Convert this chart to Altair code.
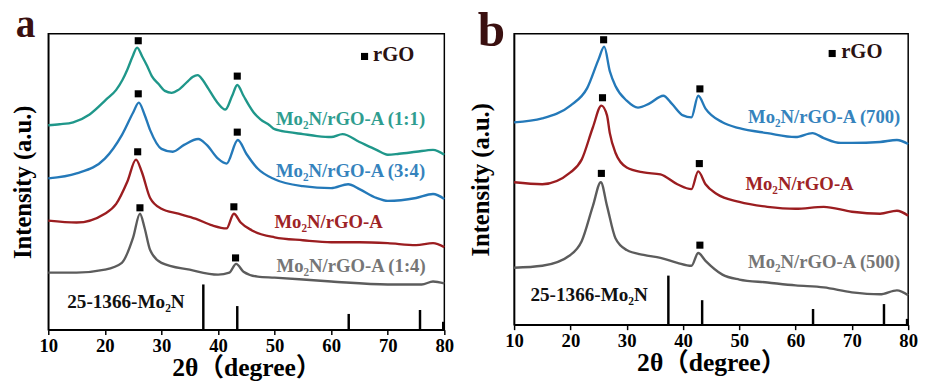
import altair as alt
import pandas as pd

FONT = "Liberation Serif, Times New Roman, DejaVu Serif, Noto Sans CJK SC"

# ---------------- Panel a data (2θ in degrees, intensity in a.u. incl. offset) ----------------
A_NAMES = ["Mo₂N/rGO-A (1:1)", "Mo₂N/rGO-A (3:4)", "Mo₂N/rGO-A", "Mo₂N/rGO-A (1:4)"]
A_LINE_COLORS = ["#1f978a", "#2479b9", "#9b1d20", "#5c5c5c"]
A_TEXT_COLORS = ["#2f9d8f", "#3583bd", "#9e2326", "#767676"]

A11_X = [10, 12, 14.4, 17.3, 20.2, 22, 23.1, 24, 24.9, 25.7, 26.6, 27.5, 28.3, 29.5, 30.6, 31.8, 33, 34.7, 35.5, 36.4,
         37.3, 38.2, 39.9, 41.3, 42.5, 43.4, 44.5, 45.5, 46.3, 47.5, 49.1, 50, 52.5, 55, 57.5, 60, 62, 65, 68, 70, 72, 75, 78, 80]
A11_Y = [208, 209, 211, 219, 234, 244, 254, 265, 278, 287, 278, 268, 258, 250, 243, 241, 244, 253, 257, 259,
         254, 246, 231, 224, 238, 249, 238, 228, 221, 214, 208, 204, 201, 199, 197, 196, 199, 191, 183, 178, 179, 181, 183, 178]

A34_X = [10, 15, 20, 23, 25, 26, 27, 28, 30, 32, 34, 36.5, 38, 40, 41.5, 43.5, 45, 47, 50, 55, 60, 63, 65, 68, 70, 75, 78, 80]
A34_Y = [154, 159, 174, 198, 221, 231, 219, 203, 184, 181, 188, 194, 188, 174, 169, 193, 179, 164, 153, 146, 144, 148, 143, 134, 131, 134, 138, 133]

AA_X = [10, 15, 20, 22, 24, 25.5, 26.5, 28, 30, 33, 36, 39, 41.5, 42.8, 44, 46, 50, 55, 60, 65, 70, 75, 78, 80]
AA_Y = [111, 109, 118, 128, 151, 173, 161, 134, 123, 118, 113, 106, 103, 118, 109, 101, 94, 91, 89, 89, 88, 86, 88, 84]

A14_X = [10, 15, 20, 23, 25, 26.2, 27, 28, 30, 35, 40, 42, 43.2, 44.5, 47, 50, 60, 70, 76, 78, 80]
A14_Y = [58, 58, 61, 68, 94, 118, 104, 81, 68, 61, 56, 58, 67, 59, 54, 53, 49, 46, 46, 49, 47]

A_LABEL_X = [76.6, 76.6, 69.1, 76.7]
A_LABEL_Y = [214, 161, 109, 65]

A_MARK_X = [25.9, 43.4, 25.9, 43.4, 25.8, 42.8, 26.2, 43.1]
A_MARK_Y = [294, 258, 240, 201, 181, 125, 124, 73]

# ---------------- Panel b data ----------------
B_NAMES = ["Mo₂N/rGO-A (700)", "Mo₂N/rGO-A", "Mo₂N/rGO-A (500)"]
B_LINE_COLORS = ["#2479b9", "#9b1d20", "#5c5c5c"]
B_TEXT_COLORS = ["#3583bd", "#9e2326", "#767676"]

B700_X = [10, 15, 20, 23, 25, 26, 27, 28, 30, 32, 34, 36.5, 38, 40, 41.5, 42.7, 44, 47, 50, 55, 60, 63, 65, 68, 70, 75, 78, 80]
B700_Y = [206, 210, 223, 241, 270, 283, 258, 243, 228, 221, 225, 233, 225, 213, 211, 233, 220, 206, 200, 195, 191, 195, 190, 185, 185, 186, 188, 184]

BA_X = [10, 15, 20, 22, 24, 25.5, 26.5, 27, 28, 30, 33, 36, 39, 41.5, 42.7, 44, 46, 50, 55, 60, 65, 70, 75, 78, 80]
BA_Y = [145, 143, 155, 168, 201, 223, 213, 195, 175, 160, 155, 153, 143, 138, 156, 143, 133, 125, 120, 118, 120, 115, 113, 116, 111]

B500_X = [10, 15, 20, 22, 24, 25.4, 26.5, 28, 30, 33, 36, 39, 41.5, 42.7, 44, 47, 50, 55, 60, 65, 70, 75, 78, 80]
B500_Y = [58, 60, 71, 85, 121, 145, 121, 88, 76, 71, 68, 63, 60, 73, 65, 51, 46, 43, 40, 38, 33, 31, 35, 30]

B_LABEL_X = [78.6, 70.3, 78.6]
B_LABEL_Y = [211, 143, 64]

B_MARK_X = [25.9, 43.0, 25.7, 42.9, 25.5, 43.0]
B_MARK_Y = [290, 240, 231, 164, 154, 81]

# ---------------- Reference pattern 25-1366-Mo2N ----------------
REF_X = [37.4, 43.4, 63.1, 75.7, 79.8]
REF_A_H = [46, 24, 16, 20, 8]
REF_B_H = [50, 25, 16, 21, 6]
REF_LABEL = "25-1366-Mo₂N"

LEGEND_TEXT = "rGO"
X_TICKS = [10, 15, 20, 25, 30, 35, 40, 45, 50, 55, 60, 65, 70, 75, 80]


def make_panel(names, line_colors, text_colors, xs_list, ys_list, label_x, label_y,
               mark_x, mark_y, ref_h, ref_lbl_pos, legend_pos, letter, letter_pos,
               width, height, ytitle_pad):
    rows = []
    for n, c, xs, ys in zip(names, line_colors, xs_list, ys_list):
        for x, y in zip(xs, ys):
            rows.append({"t": x, "v": y, "s": n, "c": c})
    df = pd.DataFrame(rows)

    xscale = alt.Scale(domain=[10, 80], nice=False, zero=False)
    yscale = alt.Scale(domain=[0, height], nice=False, zero=False)

    xaxis = alt.Axis(
        values=X_TICKS,
        labelExpr="datum.value % 10 === 0 ? datum.label : ''",
        tickSize={"condition": {"test": "datum.value % 10 === 0", "value": 5}, "value": 3},
        tickWidth=1.5, tickColor="black", domainColor="black", domainWidth=1.5,
        labelFont=FONT, labelFontSize=19, labelFontWeight="bold", labelColor="black",
        labelPadding=2, labelFlush=False, labelOverlap=False, grid=False,
        title="2θ（degree）", titleFont=FONT, titleFontSize=26, titleFontWeight="bold",
        titleColor="black", titlePadding=0,
    )
    yaxis = alt.Axis(
        labels=False, ticks=False, grid=False, domainColor="black", domainWidth=1.5,
        title="Intensity (a.u.)", titleFont=FONT, titleFontSize=25, titleFontWeight="bold",
        titleColor="black", titlePadding=ytitle_pad,
    )

    base = alt.Chart(df)
    lines = base.mark_line(strokeWidth=2.4, interpolate="monotone").encode(
        x=alt.X("t:Q", scale=xscale, axis=xaxis),
        y=alt.Y("v:Q", scale=yscale, axis=yaxis),
        color=alt.Color("c:N", scale=None),
        detail="s:N",
    )

    sticks_df = pd.DataFrame({"t": REF_X, "v0": [0] * len(REF_X), "v": ref_h})
    sticks = alt.Chart(sticks_df).mark_rule(strokeWidth=2.5, color="black").encode(
        x=alt.X("t:Q", scale=xscale), y=alt.Y("v0:Q", scale=yscale), y2="v:Q"
    )

    mk_df = pd.DataFrame({"t": mark_x + [legend_pos[0]], "v": mark_y + [legend_pos[1]]})
    marks = alt.Chart(mk_df).mark_square(size=52, color="black", filled=True, opacity=1).encode(
        x=alt.X("t:Q", scale=xscale), y=alt.Y("v:Q", scale=yscale)
    )

    lab_df = pd.DataFrame({"t": label_x, "v": label_y, "txt": names, "c": text_colors})
    labels = alt.Chart(lab_df).mark_text(
        font=FONT, fontSize=19, fontWeight="bold", align="right", baseline="middle"
    ).encode(
        x=alt.X("t:Q", scale=xscale), y=alt.Y("v:Q", scale=yscale),
        text="txt:N", color=alt.Color("c:N", scale=None),
    )

    leg_df = pd.DataFrame({"t": [legend_pos[2]], "v": [legend_pos[3]], "txt": [LEGEND_TEXT]})
    legend = alt.Chart(leg_df).mark_text(
        font=FONT, fontSize=21, fontWeight="bold", align="left", baseline="middle", color="#2a1212"
    ).encode(x=alt.X("t:Q", scale=xscale), y=alt.Y("v:Q", scale=yscale), text="txt:N")

    ref_df = pd.DataFrame({"t": [ref_lbl_pos[0]], "v": [ref_lbl_pos[1]], "txt": [REF_LABEL]})
    ref_lbl = alt.Chart(ref_df).mark_text(
        font=FONT, fontSize=19.5, fontWeight="bold", align="left", baseline="middle", color="#111111"
    ).encode(x=alt.X("t:Q", scale=xscale), y=alt.Y("v:Q", scale=yscale), text="txt:N")

    let_df = pd.DataFrame({"txt": [letter[0]]})
    let_mark = alt.Chart(let_df).mark_text(
        font=FONT, fontSize=letter[1], fontWeight="bold", align="center", baseline="alphabetic",
        color="#3a1010"
    ).encode(x=alt.value(letter_pos[0]), y=alt.value(letter_pos[1]), text="txt:N")

    return alt.layer(lines, sticks, marks, labels, legend, ref_lbl, let_mark).properties(
        width=width, height=height
    )


panel_a = make_panel(
    A_NAMES, A_LINE_COLORS, A_TEXT_COLORS,
    [A11_X, A34_X, AA_X, A14_X], [A11_Y, A34_Y, AA_Y, A14_Y],
    A_LABEL_X, A_LABEL_Y, A_MARK_X, A_MARK_Y, REF_A_H,
    (13.35, 28), (65.9, 278, 67.4, 279), ("a", 40), (-23, 3), 403, 301, 13,
)
panel_b = make_panel(
    B_NAMES, B_LINE_COLORS, B_TEXT_COLORS,
    [B700_X, BA_X, B500_X], [B700_Y, BA_Y, B500_Y],
    B_LABEL_X, B_LABEL_Y, B_MARK_X, B_MARK_Y, REF_B_H,
    (12.9, 30), (66.5, 276, 68.1, 277), ("b", 50), (-23, 12), 401, 296, 21,
)

chart = alt.hconcat(panel_a, panel_b, spacing=13).configure_view(
    stroke="black", strokeWidth=1.5
).properties(
    background="white",
    padding={"left": 2, "right": 0, "top": -7, "bottom": 0},
)

chart.save("out.html", embed_options={"renderer": "svg", "actions": False})
